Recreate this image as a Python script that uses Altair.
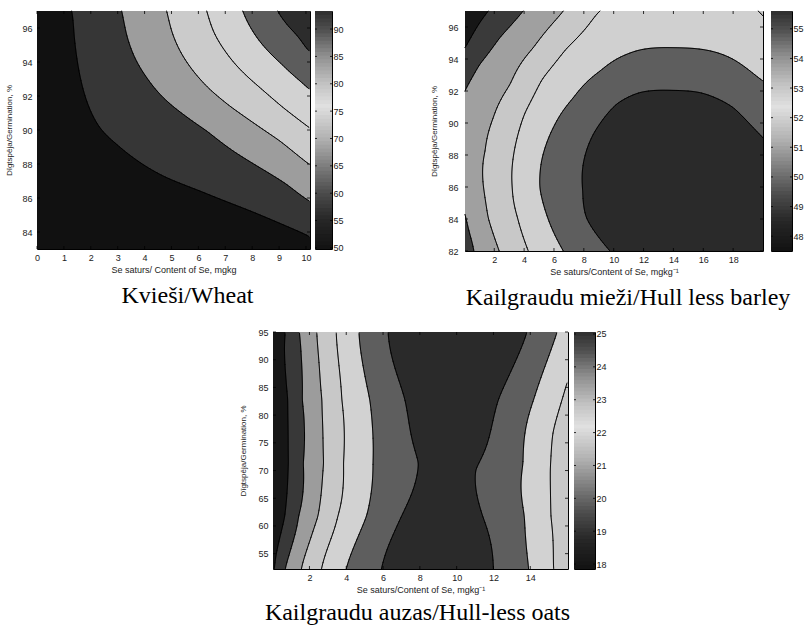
import numpy as np
import pandas as pd
import altair as alt

alt.data_transformers.disable_max_rows()

# ---------------------------------------------------------------------------
# Contour lines traced on the response surfaces: each list holds
# (Se content mg/kg, germination %) points lying on one contour level.
# ---------------------------------------------------------------------------

# Kvieši / Wheat
WHEAT_LEVELS = [56, 63, 70, 77, 84, 90]
WHEAT_56 = [(1.29, 97.0), (1.38, 95.63), (1.54, 93.67), (1.85, 91.70), (2.34, 90.14),
            (2.96, 89.16), (3.58, 88.37), (4.82, 87.20), (6.06, 86.41), (7.30, 85.63),
            (8.54, 84.84), (10.09, 83.76)]
WHEAT_63 = [(3.15, 97.0), (3.33, 95.63), (3.64, 94.25), (4.08, 93.08), (4.70, 91.90),
            (5.44, 90.92), (6.31, 89.94), (7.30, 88.76), (8.29, 87.78), (9.28, 86.80),
            (10.09, 85.86)]
WHEAT_70 = [(4.82, 97.0), (5.01, 95.82), (5.32, 94.65), (5.81, 93.47), (6.43, 92.39),
            (7.17, 91.41), (8.04, 90.43), (9.03, 89.35), (10.09, 88.02)]
WHEAT_77 = [(6.31, 97.0), (6.56, 95.82), (6.99, 94.65), (7.55, 93.57), (8.29, 92.49),
            (9.16, 91.31), (10.09, 90.18)]
WHEAT_84 = [(7.65, 97.0), (7.98, 95.92), (8.48, 94.84), (9.10, 93.86), (9.78, 92.88),
            (10.09, 92.45)]
WHEAT_90 = [(8.95, 97.0), (9.34, 96.12), (9.78, 95.33), (10.09, 94.69)]
WHEAT_SPOTS = [(0.2, 83.3, 51.0), (0.2, 96.8, 53.0), (5.0, 83.3, 52.0), (10.1, 96.9, 92.0)]
WHEAT_BANDS = ["#111111", "#363636", "#9d9d9d", "#cbcbcb", "#d2d2d2", "#5c5c5c", "#2c2c2c"]
WHEAT_XTICKS = [0, 1, 2, 3, 4, 5, 6, 7, 8, 9, 10]
WHEAT_YTICKS = [84, 86, 88, 90, 92, 94, 96]
WHEAT_CTICKS = [50, 55, 60, 65, 70, 75, 80, 85, 90]

# Kailgraudu mieži / Hull less barley
BARLEY_LEVELS = [48.5, 49.5, 50.7, 51.9, 53.1, 54.3]
BARLEY_485 = [(1.6, 97.0), (0.82, 95.96), (0.04, 94.71)]
BARLEY_495 = [(3.94, 97.0), (2.38, 95.33), (1.04, 93.67), (0.04, 92.0),
              (0.04, 84.29), (0.37, 83.04), (0.64, 82.0)]
BARLEY_507 = [(2.33, 82.0), (1.6, 84.08), (1.26, 86.17), (1.38, 88.25), (1.93, 90.33),
              (3.05, 92.42), (4.61, 94.71), (6.62, 97.0)]
BARLEY_519 = [(4.28, 82.0), (3.55, 84.1), (3.2, 86.0), (3.35, 88.3), (4.05, 90.6),
              (5.2, 92.7), (6.8, 94.6), (8.2, 96.0), (9.08, 97.0), (19.68, 97.0), (20.0, 96.69)]
BARLEY_531 = [(6.62, 82.0), (5.5, 84.29), (5.06, 85.96), (5.17, 87.63), (5.95, 89.71),
              (7.29, 91.58), (9.08, 93.25), (10.86, 94.29), (13.99, 94.71), (18.0, 93.98),
              (20.0, 92.63)]
BARLEY_543 = [(9.75, 82.0), (8.85, 83.04), (8.18, 84.08), (7.92, 85.75), (8.63, 89.29),
              (10.19, 91.17), (11.75, 91.9), (13.99, 92.04), (15.77, 91.9), (18.0, 90.96),
              (20.0, 89.08)]
BARLEY_SPOTS = [(14.0, 86.5, 55.0), (19.95, 82.1, 54.8), (0.05, 96.9, 47.9),
                (0.05, 88.2, 50.1), (0.05, 82.1, 49.0), (14.0, 96.9, 52.15)]
BARLEY_BANDS = ["#161616", "#3a3a3a", "#a0a0a0", "#c8c8c8", "#d0d0d0", "#5e5e5e", "#2a2a2a"]
BARLEY_XTICKS = [2, 4, 6, 8, 10, 12, 14, 16, 18]
BARLEY_YTICKS = [82, 84, 86, 88, 90, 92, 94, 96]
BARLEY_CTICKS = [48, 49, 50, 51, 52, 53, 54, 55]

# Kailgraudu auzas / Hull-less oats
OATS_LEVELS = [18.5, 19.5, 20.5, 21.5, 22.5, 23.5]
OATS_185 = [(0.673, 95.0), (0.818, 82.79), (0.855, 71.36), (0.655, 61.74), (0.091, 52.23)]
OATS_195 = [(1.455, 95.0), (1.618, 82.79), (1.673, 71.36), (1.418, 61.74), (0.691, 52.23)]
OATS_205 = [(2.4, 95.0), (2.673, 82.79), (2.764, 71.36), (2.455, 61.74), (1.564, 52.23)]
OATS_215 = [(3.455, 95.0), (3.764, 82.79), (3.855, 71.36), (3.545, 61.74), (2.655, 52.23),
            (16.05, 86.4), (15.727, 82.79), (15.236, 76.77), (15.09, 70.16),
            (15.127, 61.74), (15.273, 52.23)]
OATS_225 = [(4.691, 95.0), (5.273, 82.79), (5.455, 71.36), (5.091, 61.74), (4.0, 52.23),
            (15.455, 95.0), (14.182, 82.79), (13.6, 71.36), (13.673, 61.74), (13.909, 52.23)]
OATS_235 = [(6.273, 95.0), (7.182, 82.79), (7.909, 71.36), (7.0, 61.74), (5.909, 52.23),
            (13.818, 95.0), (12.273, 82.79), (11.055, 70.16), (11.418, 61.74), (12.0, 52.23)]
OATS_SPOTS = [(9.5, 72.0, 24.3), (9.3, 94.8, 24.6), (9.0, 52.5, 24.5),
              (0.03, 94.8, 18.0), (16.02, 94.8, 22.0), (16.02, 60.0, 21.0)]
OATS_BANDS = ["#161616", "#383838", "#9c9c9c", "#c8c8c8", "#d2d2d2", "#5e5e5e", "#2a2a2a"]
OATS_XTICKS = [2, 4, 6, 8, 10, 12, 14]
OATS_YTICKS = [55, 60, 65, 70, 75, 80, 85, 90, 95]
OATS_CTICKS = [18, 19, 20, 21, 22, 23, 24, 25]

# Gray colormap of the colour bars (dark - light - dark), position 0..1 along the bar
CMAP_FRAC = [0.0, 0.12, 0.23, 0.35, 0.46, 0.6, 0.69, 0.81, 0.92, 1.0]
CMAP_GRAY = ["#121212", "#262626", "#4a4a4a", "#7e7e7e", "#b0b0b0", "#e0e0e0",
             "#c4c4c4", "#909090", "#505050", "#2e2e2e"]

Y_TITLE = "Dīgtspēja/Germination, %"
SANS = "Liberation Sans"
SERIF = "Liberation Serif"


def tps_surface(samples, sx, sy, gx, gy, smooth):
    """Thin-plate spline through the traced contour points, evaluated on a grid."""
    s = np.asarray(samples, float)
    P = np.column_stack([s[:, 0] * sx, s[:, 1] * sy]) / 100.0
    z = s[:, 2]
    n = len(P)

    def kern(A, B):
        r2 = ((A[:, None, :] - B[None, :, :]) ** 2).sum(-1)
        with np.errstate(divide="ignore", invalid="ignore"):
            k = 0.5 * r2 * np.log(r2)
        return np.nan_to_num(k, nan=0.0, posinf=0.0, neginf=0.0)

    M = np.zeros((n + 3, n + 3))
    M[:n, :n] = kern(P, P) + smooth * np.eye(n)
    M[:n, n] = 1.0
    M[:n, n + 1:] = P
    M[n, :n] = 1.0
    M[n + 1:, :n] = P.T
    sol = np.linalg.solve(M, np.r_[z, 0.0, 0.0, 0.0])
    w, a = sol[:n], sol[n:]
    GX, GY = np.meshgrid(gx, gy)
    Q = np.column_stack([GX.ravel() * sx, GY.ravel() * sy]) / 100.0
    out = np.empty(len(Q))
    for i in range(0, len(Q), 20000):
        q = Q[i:i + 20000]
        out[i:i + 20000] = kern(q, P) @ w + a[0] + q @ a[1:]
    return out.reshape(GX.shape)


def contour_segments(gx, gy, Z, level):
    """Marching squares: line pieces where Z crosses one level."""
    a = Z[:-1, :-1]
    b = Z[:-1, 1:]
    c = Z[1:, 1:]
    d = Z[1:, :-1]
    X0, Y0 = np.meshgrid(gx[:-1], gy[:-1])
    X1, Y1 = np.meshgrid(gx[1:], gy[1:])

    def edge(p, q, xa, ya, xb, yb):
        hit = (p - level) * (q - level) < 0
        den = np.where(hit, q - p, 1.0)
        t = np.where(hit, (level - p) / den, 0.0)
        return hit, xa + t * (xb - xa), ya + t * (yb - ya)

    edges = [edge(a, b, X0, Y0, X1, Y0), edge(b, c, X1, Y0, X1, Y1),
             edge(d, c, X0, Y1, X1, Y1), edge(a, d, X0, Y0, X0, Y1)]
    cnt = sum(e[0].astype(int) for e in edges)
    parts = []
    for i in range(4):
        for k in range(i + 1, 4):
            m = (cnt == 2) & edges[i][0] & edges[k][0]
            parts.append(np.column_stack([edges[i][1][m], edges[i][2][m],
                                          edges[k][1][m], edges[k][2][m]]))
    m4 = cnt == 4
    for i, k in ((0, 3), (1, 2)):
        parts.append(np.column_stack([edges[i][1][m4], edges[i][2][m4],
                                      edges[k][1][m4], edges[k][2][m4]]))
    return np.vstack(parts)


def contour_panel(lines, levels, spots, bands, xdom, ydom, w, h,
                  xticks, yticks, xtitle, caption, cap_dx, cap_offset, ylab_pad, ytitle_pad):
    samples = [(x, y, lev) for pts, lev in zip(lines, levels) for x, y in pts] + list(spots)
    sx = w / (xdom[1] - xdom[0])
    sy = h / (ydom[1] - ydom[0])
    gx = np.linspace(xdom[0], xdom[1], w + 1)
    gy = np.linspace(ydom[0], ydom[1], h + 1)
    Z = tps_surface(samples, sx, sy, gx, gy, smooth=1e-5)

    # filled bands, one rectangle per run of equal band in each pixel row
    Zc = 0.25 * (Z[:-1, :-1] + Z[1:, :-1] + Z[:-1, 1:] + Z[1:, 1:])
    band = np.searchsorted(np.asarray(levels, float), Zc, side="right")
    dx = gx[1] - gx[0]
    dy = gy[1] - gy[0]
    rows = []
    for j in range(h):
        bj = band[j]
        cuts = np.flatnonzero(np.diff(bj)) + 1
        starts = np.r_[0, cuts]
        ends = np.r_[cuts, w]
        ytop = min(gy[j + 1] + 0.6 * dy, ydom[1])
        for s, e in zip(starts, ends):
            rows.append((gx[s], min(gx[e] + 0.4 * dx, xdom[1]), gy[j], ytop, bands[bj[s]]))
    fill_df = pd.DataFrame(rows, columns=["x", "x2", "y", "y2", "fill"])

    # contour lines on a 2-pixel grid
    segs = np.vstack([contour_segments(gx[::2], gy[::2], Z[::2, ::2], lev) for lev in levels])
    seg_df = pd.DataFrame(segs, columns=["x", "y", "x2", "y2"])

    xs = alt.Scale(domain=list(xdom), nice=False, zero=False)
    ys = alt.Scale(domain=list(ydom), nice=False, zero=False)
    xaxis = alt.Axis(values=xticks, title=xtitle, format="d", labelFlush=False,
                     labelPadding=4, titlePadding=3)
    yaxis = alt.Axis(values=yticks, title=Y_TITLE, format="d", labelFlush=False,
                     labelPadding=ylab_pad, titlePadding=ytitle_pad, titleFontSize=8)
    X = lambda f: alt.X(f, scale=xs, axis=xaxis)
    Y = lambda f: alt.Y(f, scale=ys, axis=yaxis)

    fill = alt.Chart(fill_df).mark_rect(strokeWidth=0).encode(
        x=X("x:Q"), x2="x2:Q", y=Y("y:Q"), y2="y2:Q",
        color=alt.Color("fill:N", scale=None))
    contour = alt.Chart(seg_df).mark_rule(color="black", strokeWidth=0.9, strokeCap="round").encode(
        x=X("x:Q"), x2="x2:Q", y=Y("y:Q"), y2="y2:Q")

    tx = pd.DataFrame({"x": xticks})
    ty = pd.DataFrame({"y": yticks})
    tick = dict(color="black", strokeWidth=0.8)
    t_bottom = alt.Chart(tx).mark_rule(**tick).encode(x=X("x:Q"), y=alt.value(h), y2=alt.value(h - 3))
    t_top = alt.Chart(tx).mark_rule(**tick).encode(x=X("x:Q"), y=alt.value(0), y2=alt.value(3))
    t_left = alt.Chart(ty).mark_rule(**tick).encode(y=Y("y:Q"), x=alt.value(0), x2=alt.value(3))
    t_right = alt.Chart(ty).mark_rule(**tick).encode(y=Y("y:Q"), x=alt.value(w), x2=alt.value(w - 3))

    return alt.layer(fill, contour, t_bottom, t_top, t_left, t_right).properties(
        width=w, height=h,
        title=alt.TitleParams(caption, orient="bottom", anchor="middle", font=SERIF,
                              fontSize=24, fontWeight="normal", color="black",
                              offset=cap_offset, dx=cap_dx))


def colorbar(lo, hi, ticks, w, h):
    edges = np.linspace(lo, hi, 65)
    step = edges[1] - edges[0]
    df = pd.DataFrame({"y": edges[:-1],
                       "y2": np.minimum(edges[1:] + 0.4 * step, hi),
                       "v": 0.5 * (edges[:-1] + edges[1:])})
    cs = alt.Scale(domain=[lo + f * (hi - lo) for f in CMAP_FRAC], range=CMAP_GRAY,
                   interpolate="rgb")
    ys = alt.Scale(domain=[lo, hi], nice=False, zero=False)
    yaxis = alt.Axis(orient="right", values=ticks, title=None, format="d",
                     labelPadding=1, labelFlush=False)
    bar = alt.Chart(df).mark_rect(strokeWidth=0).encode(
        x=alt.value(0), x2=alt.value(w),
        y=alt.Y("y:Q", scale=ys, axis=yaxis), y2="y2:Q",
        color=alt.Color("v:Q", scale=cs, legend=None))
    tk = pd.DataFrame({"y": ticks})
    tick = dict(color="black", strokeWidth=0.8)
    left = alt.Chart(tk).mark_rule(**tick).encode(
        y=alt.Y("y:Q", scale=ys, axis=yaxis), x=alt.value(0), x2=alt.value(2))
    right = alt.Chart(tk).mark_rule(**tick).encode(
        y=alt.Y("y:Q", scale=ys, axis=yaxis), x=alt.value(w), x2=alt.value(w - 2))
    return alt.layer(bar, left, right).properties(width=w, height=h)


def gap(w, h):
    """Empty cell that only holds space between panels."""
    return alt.Chart(pd.DataFrame({"s": [0]})).mark_point(opacity=0).encode(
        x=alt.X("s:Q", axis=None), y=alt.Y("s:Q", axis=None)
    ).properties(width=w, height=h, view=alt.ViewBackground(stroke=None))


wheat = contour_panel([WHEAT_56, WHEAT_63, WHEAT_70, WHEAT_77, WHEAT_84, WHEAT_90],
                      WHEAT_LEVELS, WHEAT_SPOTS, WHEAT_BANDS, (0.0, 10.15), (83.0, 97.0),
                      273, 238, WHEAT_XTICKS, WHEAT_YTICKS,
                      "Se saturs/ Content of Se, mgkg", "Kvieši/Wheat", 14, 10, 5, 8)
barley = contour_panel([BARLEY_485, BARLEY_495, BARLEY_507, BARLEY_519, BARLEY_531, BARLEY_543],
                       BARLEY_LEVELS, BARLEY_SPOTS, BARLEY_BANDS, (0.04, 20.0), (82.0, 97.0),
                       298, 240, BARLEY_XTICKS, BARLEY_YTICKS,
                       "Se saturs/Content of Se, mgkg⁻¹", "Kailgraudu mieži/Hull less barley",
                       14, 10, 7, 9)
oats = contour_panel([OATS_185, OATS_195, OATS_205, OATS_215, OATS_225, OATS_235],
                     OATS_LEVELS, OATS_SPOTS, OATS_BANDS, (0.02, 16.05), (52.23, 95.0),
                     295, 237, OATS_XTICKS, OATS_YTICKS,
                     "Se saturs/Content of Se, mgkg⁻¹", "Kailgraudu auzas/Hull-less oats",
                     -3, 7, 5, 10)

wheat_cb = colorbar(49.8, 93.3, WHEAT_CTICKS, 17, 238)
barley_cb = colorbar(47.5, 55.6, BARLEY_CTICKS, 21, 240)
oats_cb = colorbar(17.85, 25.06, OATS_CTICKS, 21, 237)

row1 = alt.hconcat(wheat, gap(5, 240), wheat_cb, gap(133, 240), barley, gap(8, 240), barley_cb,
                   spacing=0, bounds="flush").resolve_scale(color="independent")
row2 = alt.hconcat(gap(236, 237), oats, gap(6, 237), oats_cb,
                   spacing=0, bounds="flush").resolve_scale(color="independent")

chart = alt.vconcat(row1, row2, spacing=16).resolve_scale(
    color="independent"
).properties(
    padding={"left": 5, "top": 10, "right": 0, "bottom": 0},
    background="white",
).configure_view(
    stroke="black", strokeWidth=1
).configure_axis(
    labelFont=SANS, labelFontSize=9, labelColor="#222222",
    titleFont=SANS, titleFontSize=9, titleFontWeight="normal", titleColor="#222222",
    ticks=False, domain=False, grid=False,
)

chart.save("out.html", embed_options={"renderer": "svg", "actions": False})
